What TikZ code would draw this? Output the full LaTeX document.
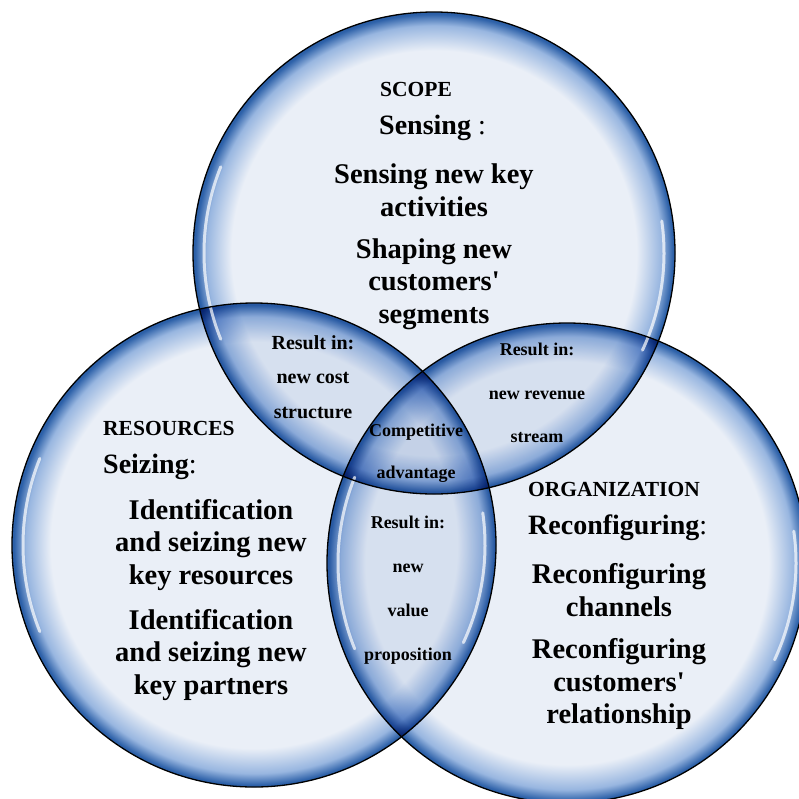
\documentclass[tikz,border=0pt]{standalone}
\usepackage{fontspec}
\setmainfont{Liberation Serif}
\usetikzlibrary{calc}
\definecolor{bubin}{HTML}{EAEFF7}
\definecolor{bubmid}{HTML}{98B6E0}
\definecolor{bubout}{HTML}{2C60A8}
\pgfdeclareradialshading{bubble}{\pgfpoint{0bp}{0bp}}{color(0bp)=(bubin); color(21bp)=(bubin); color(23.6bp)=(bubmid); color(24.8bp)=(bubout); color(25bp)=(bubout); color(50bp)=(bubout)}
\newcommand{\bubble}[3]{\shade[shading=bubble] ( #1 , #2 ) circle ( #3 );}
\newcommand{\rim}[3]{\draw[line width=1.3pt] ( #1 , #2 ) circle ( #3 );}
\newcommand{\gloss}[5]{\draw[white, line width=3pt, opacity=.7, line cap=round] ($( #1 , #2 )+( #4 : #3 )$) arc ( #4 : #5 : #3 );}
\tikzset{
  head/.style={font=\fontsize{21.5}{24}\selectfont\bfseries, anchor=west, inner sep=0pt},
  lead/.style={font=\fontsize{28}{30}\selectfont\bfseries, anchor=west, inner sep=0pt},
  big/.style={font=\fontsize{28.5}{32.5}\selectfont\bfseries, align=center, inner sep=0pt},
  lens/.style={font=\fontsize{18}{#1}\selectfont\bfseries, align=center, inner sep=0pt},
}

\begin{document}
\begin{tikzpicture}[x=1pt, y=-1pt]
    \useasboundingbox (0,0) rectangle (799,798);
    % circles
    \begin{scope}[blend group=multiply]
        \bubble{434}{253}{241}
        \bubble{254}{545}{242}
        \bubble{567}{563}{240}
    \end{scope}
    % gloss
    \gloss{434}{253}{230}{158}{202}
    \gloss{434}{253}{230}{-8}{25}
    \gloss{254}{545}{231}{158}{202}
    \gloss{254}{545}{231}{-8}{25}
    \gloss{567}{563}{229}{158}{202}
    \gloss{567}{563}{229}{-8}{25}
    % rims
    \rim{434}{253}{241}
    \rim{254}{545}{242}
    \rim{567}{563}{240}
    % scope
    \node[head] (scope) at (380,89) {SCOPE};
    \node[lead] (sensing) at (379,128) {Sensing \mdseries:};
    \node[big] (sensact) at (434,190) {Sensing new key\\activities};
    \node[big] (shaping) at (434,284) {Shaping new\\customers\textquotesingle\\segments};
    % resources
    \node[head] (resources) at (103,428) {RESOURCES};
    \node[lead] (seizing) at (103,467) {Seizing\mdseries:};
    \node[big] (seizres) at (211,545) {Identification\\and seizing new\\key resources};
    \node[big] (seizpart) at (211,655) {Identification\\and seizing new\\key partners};
    % organization
    \node[head] (organization) at (528,489) {ORGANIZATION};
    \node[lead] (reconf) at (528,528) {Reconfiguring\mdseries:};
    \node[big] (reconfch) at (619,590) {Reconfiguring\\channels};
    \node[big] (reconfcu) at (619,684) {Reconfiguring\\customers\textquotesingle\\relationship};
    % overlaps
    \node[lens=34.5, font=\fontsize{20}{34.5}\selectfont\bfseries] (cost) at (313,377) {Result in:\\new cost\\structure};
    \node[lens=43.5] (revenue) at (537,393) {Result in:\\new revenue\\stream};
    \node[lens=42] (advantage) at (416,453) {Competitive\\advantage};
    \node[lens=44] (value) at (408,590) {Result in:\\new\\value\\proposition};
\end{tikzpicture}
\end{document}
